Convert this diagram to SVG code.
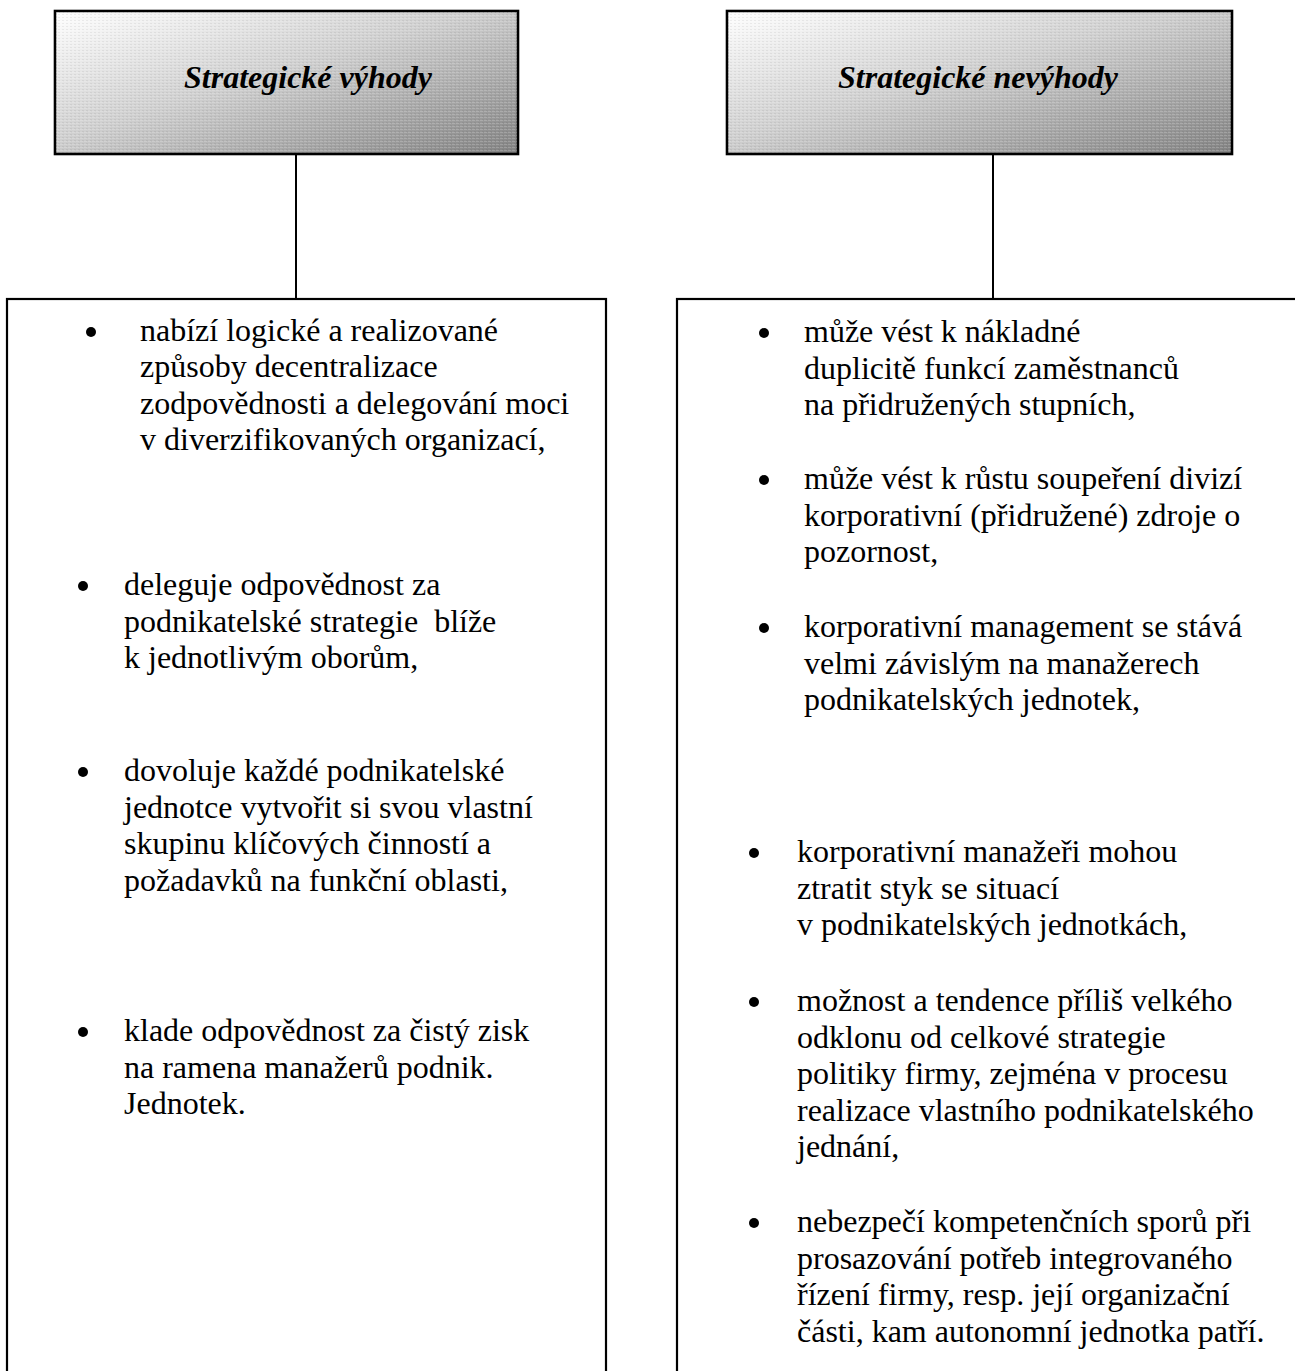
<svg xmlns="http://www.w3.org/2000/svg" width="1295" height="1371" viewBox="0 0 1295 1371">
  <defs>
    <linearGradient id="headFill" x1="0" y1="0" x2="1" y2="1">
      <stop offset="0" stop-color="#ffffff"/>
      <stop offset="0.45" stop-color="#d0d0d0"/>
      <stop offset="1" stop-color="#828282"/>
    </linearGradient>
    <pattern id="weave" width="4" height="3" patternUnits="userSpaceOnUse">
      <rect x="0" y="0" width="3" height="1" fill="#ffffff" opacity="0.18"/>
      <rect x="2" y="2" width="2" height="1" fill="#000000" opacity="0.06"/>
    </pattern>
  </defs>
  <style>
    .frame { fill: none; stroke: #000; stroke-width: 2.2; }
    .head { stroke: #000; stroke-width: 2.6; }
    .title { font-family: "Liberation Serif", "Times New Roman", serif; font-size: 32px; font-weight: bold; font-style: italic; fill: #000; }
    .body { font-family: "Liberation Serif", "Times New Roman", serif; font-size: 32px; fill: #000; }
    .dot { fill: #000; }
    .link { stroke: #000; stroke-width: 2; fill: none; }
  </style>
  <rect x="0" y="0" width="1295" height="1371" fill="#ffffff"/>

  <!-- connectors between headers and lists -->
  <g id="connectors">
    <line class="link" x1="296" y1="154" x2="296" y2="299"/>
    <line class="link" x1="993" y1="154" x2="993" y2="299"/>
  </g>

  <!-- header: advantages -->
  <g id="head-advantages">
    <rect x="55" y="11" width="463" height="143" fill="url(#headFill)" class="head"/>
    <rect x="56" y="12" width="461" height="141" fill="url(#weave)"/>
    <text class="title" x="184" y="88">Strategické výhody</text>
  </g>

  <!-- header: disadvantages -->
  <g id="head-disadvantages">
    <rect x="727" y="11" width="505" height="143" fill="url(#headFill)" class="head"/>
    <rect x="728" y="12" width="503" height="141" fill="url(#weave)"/>
    <text class="title" x="838" y="88">Strategické nevýhody</text>
  </g>

  <!-- list of advantages -->
  <g id="list-advantages">
    <rect class="frame" x="7" y="299" width="599" height="1090"/>
    <circle class="dot" cx="91" cy="332" r="5"/>
    <text class="body" x="140" y="341">nabízí logické a realizované</text>
    <text class="body" x="140" y="377">způsoby decentralizace</text>
    <text class="body" x="140" y="414">zodpovědnosti a delegování moci</text>
    <text class="body" x="140" y="450">v diverzifikovaných organizací,</text>

    <circle class="dot" cx="83" cy="586" r="5"/>
    <text class="body" x="124" y="595">deleguje odpovědnost za</text>
    <text class="body" x="124" y="632" xml:space="preserve">podnikatelské strategie  blíže</text>
    <text class="body" x="124" y="668">k jednotlivým oborům,</text>

    <circle class="dot" cx="83" cy="772" r="5"/>
    <text class="body" x="124" y="781">dovoluje každé podnikatelské</text>
    <text class="body" x="124" y="818">jednotce vytvořit si svou vlastní</text>
    <text class="body" x="124" y="854">skupinu klíčových činností a</text>
    <text class="body" x="124" y="891">požadavků na funkční oblasti,</text>

    <circle class="dot" cx="83" cy="1032" r="5"/>
    <text class="body" x="124" y="1041">klade odpovědnost za čistý zisk</text>
    <text class="body" x="124" y="1078">na ramena manažerů podnik.</text>
    <text class="body" x="124" y="1114">Jednotek.</text>
  </g>

  <!-- list of disadvantages -->
  <g id="list-disadvantages">
    <rect class="frame" x="677" y="299" width="640" height="1090"/>
    <circle class="dot" cx="764" cy="333" r="5"/>
    <text class="body" x="804" y="342">může vést k nákladné</text>
    <text class="body" x="804" y="379">duplicitě funkcí zaměstnanců</text>
    <text class="body" x="804" y="415">na přidružených stupních,</text>

    <circle class="dot" cx="764" cy="480" r="5"/>
    <text class="body" x="804" y="489">může vést k růstu soupeření divizí</text>
    <text class="body" x="804" y="526">korporativní (přidružené) zdroje o</text>
    <text class="body" x="804" y="562">pozornost,</text>

    <circle class="dot" cx="764" cy="628" r="5"/>
    <text class="body" x="804" y="637">korporativní management se stává</text>
    <text class="body" x="804" y="674">velmi závislým na manažerech</text>
    <text class="body" x="804" y="710">podnikatelských jednotek,</text>

    <circle class="dot" cx="754" cy="853" r="5"/>
    <text class="body" x="797" y="862">korporativní manažeři mohou</text>
    <text class="body" x="797" y="899">ztratit styk se situací</text>
    <text class="body" x="797" y="935">v podnikatelských jednotkách,</text>

    <circle class="dot" cx="754" cy="1002" r="5"/>
    <text class="body" x="797" y="1011">možnost a tendence příliš velkého</text>
    <text class="body" x="797" y="1048">odklonu od celkové strategie</text>
    <text class="body" x="797" y="1084">politiky firmy, zejména v procesu</text>
    <text class="body" x="797" y="1121">realizace vlastního podnikatelského</text>
    <text class="body" x="797" y="1157">jednání,</text>

    <circle class="dot" cx="754" cy="1223" r="5"/>
    <text class="body" x="797" y="1232">nebezpečí kompetenčních sporů při</text>
    <text class="body" x="797" y="1269">prosazování potřeb integrovaného</text>
    <text class="body" x="797" y="1305">řízení firmy, resp. její organizační</text>
    <text class="body" x="797" y="1342">části, kam autonomní jednotka patří.</text>
  </g>
</svg>
